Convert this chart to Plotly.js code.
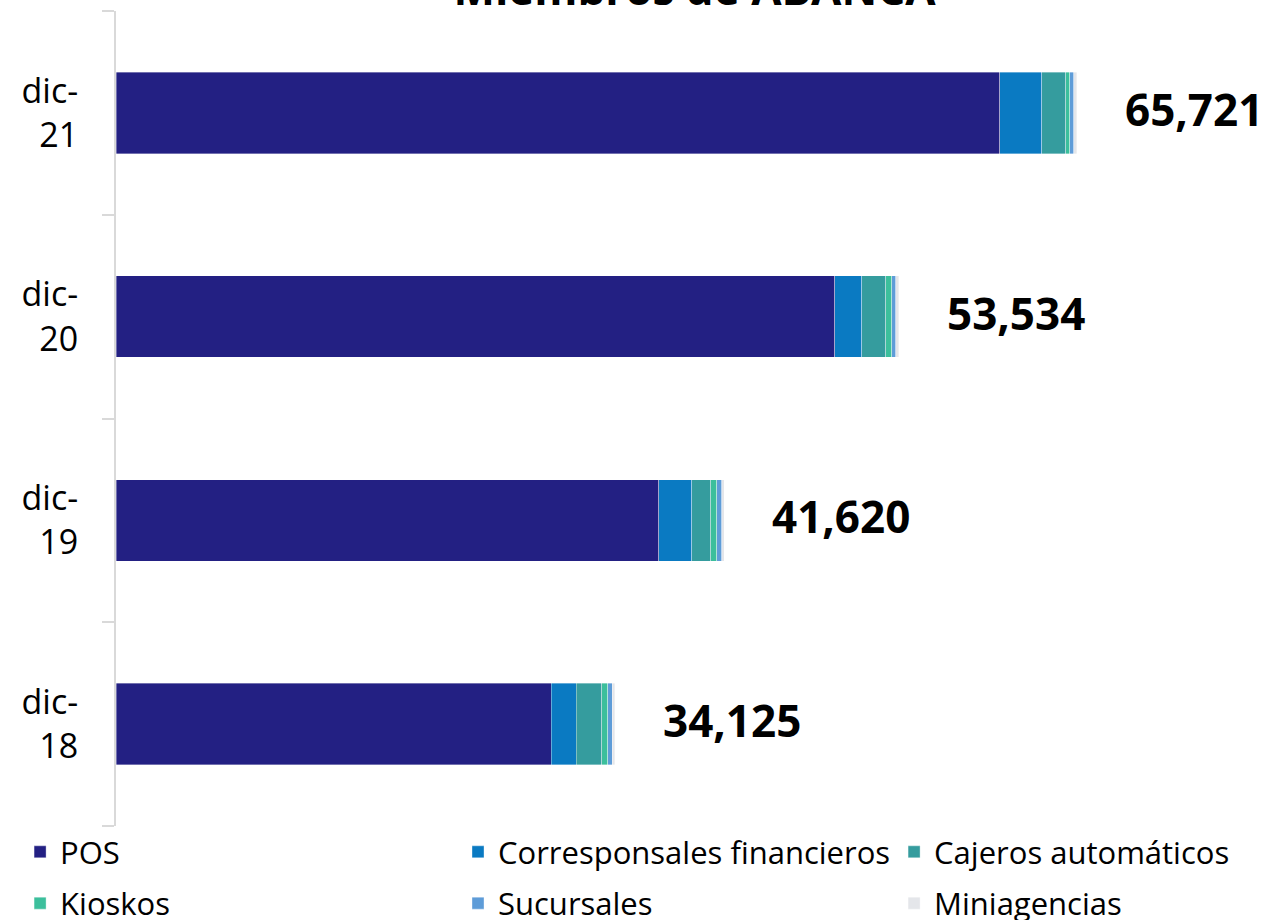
<!DOCTYPE html>
<html>
<head>
<meta charset="utf-8">
<script src="https://cdn.plot.ly/plotly-3.0.1.min.js"></script>
<style>html,body{margin:0;padding:0;background:#fff;}#chart{width:1273px;height:920px;}</style>
</head>
<body>
<div id="chart"></div>
<script>
// Data
const categories = ['dic-18', 'dic-19', 'dic-20', 'dic-21'];
const tickLabels = ['dic-<br>18', 'dic-<br>19', 'dic-<br>20', 'dic-<br>21'];
const seriesNames = ['POS', 'Corresponsales financieros', 'Cajeros automáticos', 'Kioskos', 'Sucursales', 'Miniagencias'];
const pos = [29789, 37116, 49169, 60468];
const corresponsales = [1712, 2260, 1849, 2876];
const cajeros = [1712, 1301, 1644, 1644];
const kioskos = [411, 434, 390, 253];
const sucursales = [320, 320, 295, 295];
const miniagencias = [181, 189, 187, 185];
const totals = [34125, 41620, 53534, 65721];
const totalLabels = ['34,125', '41,620', '53,534', '65,721'];

const seriesValues = [pos, corresponsales, cajeros, kioskos, sucursales, miniagencias];
const colors = ['#232083', '#0A7AC2', '#359C9E', '#3CBF9C', '#5E9CD8', '#E4E6EA'];
const legendIds = ['legend', 'legend2', 'legend3', 'legend', 'legend2', 'legend3'];

const FONT = '"Open Sans", Lato, sans-serif';

const traces = seriesNames.map((name, i) => ({
  type: 'bar',
  orientation: 'h',
  name: name,
  legendgroup: 'g' + i,
  y: categories,
  x: seriesValues[i],
  marker: { color: colors[i], line: { color: 'rgba(255,255,255,0.45)', width: 0.8 } },
  legend: legendIds[i],
  hoverinfo: 'x+name'
}));

const legendBase = {
  orientation: 'v',
  traceorder: 'grouped',
  xref: 'paper', yref: 'paper',
  yanchor: 'top', xanchor: 'left',
  y: 0.001,
  font: { family: FONT, size: 31, color: '#000' },
  bgcolor: 'rgba(0,0,0,0)',
  borderwidth: 0,
  tracegroupgap: 8
};

const layout = {
  width: 1273, height: 920,
  margin: { l: 116, r: 0, t: 11, b: 94, pad: 0, autoexpand: false },
  paper_bgcolor: '#fff', plot_bgcolor: '#fff',
  barmode: 'stack',
  bargap: 0.6,
  font: { family: FONT, color: '#000' },
  title: {
    text: '<b>Miembros de ABANCA</b>',
    font: { family: FONT, size: 44, color: '#000' },
    x: 0.5, xref: 'paper', xanchor: 'center',
    y: 0.9946, yref: 'container', yanchor: 'bottom'
  },
  xaxis: {
    range: [0, 79150],
    visible: false,
    showgrid: false, zeroline: false
  },
  yaxis: {
    type: 'category',
    categoryorder: 'array', categoryarray: categories,
    tickvals: categories, ticktext: tickLabels,
    tickson: 'boundaries',
    ticks: 'outside', ticklen: 12, tickwidth: 2, tickcolor: '#D9D9D9',
    showline: true, linecolor: '#D9D9D9', linewidth: 2,
    showgrid: false, zeroline: false,
    tickfont: { family: FONT, size: 34, color: '#000' },
    ticklabelstandoff: 29
  },
  legend: Object.assign({}, legendBase, { x: -0.0829 }),
  legend2: Object.assign({}, legendBase, { x: 0.2956 }),
  legend3: Object.assign({}, legendBase, { x: 0.6725 }),
  annotations: categories.map((c, i) => ({
    x: totals[i], y: c, xref: 'x', yref: 'y',
    text: '<b>' + totalLabels[i] + '</b>',
    showarrow: false, xanchor: 'left', yanchor: 'middle',
    xshift: 46, yshift: 4,
    font: { family: FONT, size: 44, color: '#000' }
  }))
};

Plotly.newPlot('chart', traces, layout, { displayModeBar: false, staticPlot: true });
</script>
</body>
</html>
